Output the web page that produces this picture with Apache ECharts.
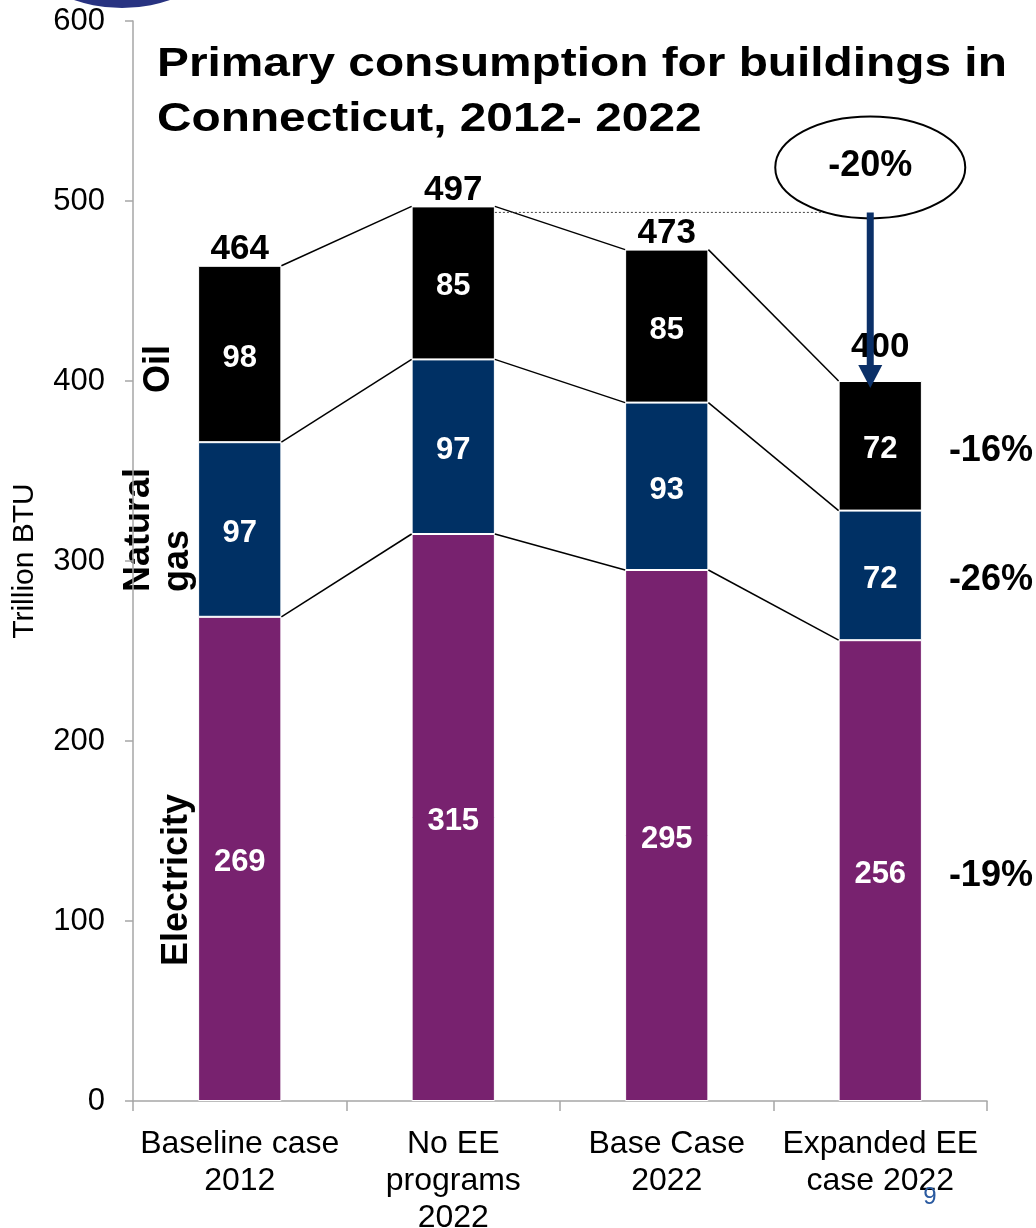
<!DOCTYPE html>
<html>
<head>
<meta charset="utf-8">
<script src="https://cdn.jsdelivr.net/npm/echarts@6/dist/echarts.min.js"></script>
<style>
  html, body { margin: 0; padding: 0; background: #fff; }
  #chart { width: 1036px; height: 1228px; }
</style>
</head>
<body>
<div id="chart"></div>
<script>
// Scenario categories (x axis)
const categories = ['Baseline case\n2012', 'No EE\nprograms\n2022', 'Base Case\n2022', 'Expanded EE\ncase 2022'];

// Primary consumption by fuel, trillion BTU
const electricity = [269, 315, 295, 256];
const naturalGas  = [97, 97, 93, 72];
const oil         = [98, 85, 85, 72];
const totals      = [464, 497, 473, 400];

// Change of the expanded EE case vs. the no-EE case (electricity, gas, oil) and in total
const fuelChange  = ['-19%', '-26%', '-16%'];
const totalChange = '-20%';

// Value axis range
const yMin = 0, yMax = 600, yStep = 100;

const FONT = '"Liberation Sans", Arial, Helvetica, sans-serif';
const BAR_FRAC = 0.39;
const COLORS = { electricity: '#78226F', gas: '#003064', oil: '#000000' };

// cumulative tops of each stacked band
const levels = [
  electricity.map(v => v),
  electricity.map((v, i) => v + naturalGas[i]),
  electricity.map((v, i) => v + naturalGas[i] + oil[i])
];

const chart = echarts.init(document.getElementById('chart'), null, { renderer: 'canvas' });

function barSeries(name, data, color) {
  return {
    name, type: 'bar', stack: 'total', data,
    barWidth: (BAR_FRAC * 100) + '%',
    itemStyle: { color, borderColor: '#ffffff', borderWidth: 1 },
    label: {
      show: true, position: 'inside', color: '#ffffff', offset: [0, 4],
      fontFamily: FONT, fontSize: 31, fontWeight: 'bold'
    },
    emphasis: { disabled: true }
  };
}

// totals above bars, connector lines between bars, change labels beside the last bar
function renderOverlay(params, api) {
  const i = params.dataIndex;
  const n = categories.length;
  const half = api.size([1, 0])[0] * BAR_FRAC / 2;
  const kids = [];
  const top = api.coord([i, totals[i]]);
  // the last total sits higher so the arrow head fits beneath it
  const lift = i === n - 1 ? 16 : -1;
  kids.push({
    type: 'text', silent: true,
    style: {
      text: String(totals[i]), x: top[0], y: top[1] - lift,
      align: 'center', verticalAlign: 'bottom',
      fontFamily: FONT, fontSize: 35, fontWeight: 'bold', fill: '#000'
    }
  });
  if (i < n - 1) {
    levels.forEach(lv => {
      const a = api.coord([i, lv[i]]);
      const b = api.coord([i + 1, lv[i + 1]]);
      kids.push({
        type: 'line', silent: true,
        shape: { x1: a[0] + half, y1: a[1], x2: b[0] - half, y2: b[1] },
        style: { stroke: '#000', lineWidth: 1.5 }
      });
    });
  } else {
    levels.forEach((lv, k) => {
      const lo = k === 0 ? 0 : levels[k - 1][i];
      const p = api.coord([i, (lo + lv[i]) / 2]);
      kids.push({
        type: 'text', silent: true,
        style: {
          text: fuelChange[k], x: p[0] + half + 27, y: p[1] + 5,
          align: 'left', verticalAlign: 'middle',
          fontFamily: FONT, fontSize: 36, fontWeight: 'bold', fill: '#000'
        }
      });
    });
  }
  return { type: 'group', children: kids };
}

chart.setOption({
  animation: false,
  backgroundColor: '#ffffff',
  textStyle: { fontFamily: FONT },
  grid: { left: 133, right: 49, top: 21, bottom: 127, containLabel: false, outerBoundsMode: 'none' },
  xAxis: {
    type: 'category',
    data: categories,
    axisLine: { show: true, lineStyle: { color: '#a6a6a6', width: 1.5 } },
    axisTick: { show: true, length: 10, alignWithLabel: false, lineStyle: { color: '#a6a6a6', width: 1.5 } },
    axisLabel: {
      color: '#000', fontFamily: FONT, fontSize: 32, lineHeight: 37,
      margin: 25, interval: 0
    }
  },
  yAxis: {
    type: 'value',
    min: yMin, max: yMax, interval: yStep,
    name: 'Trillion BTU',
    nameLocation: 'middle',
    nameGap: 93,
    nameRotate: 90,
    nameTextStyle: { color: '#000', fontFamily: FONT, fontSize: 30 },
    axisLine: { show: true, lineStyle: { color: '#a6a6a6', width: 1.5 } },
    axisTick: { show: true, length: 8, lineStyle: { color: '#a6a6a6', width: 1.5 } },
    axisLabel: { color: '#000', fontFamily: FONT, fontSize: 31, margin: 28 },
    splitLine: { show: false }
  },
  series: [
    barSeries('Electricity', electricity, COLORS.electricity),
    barSeries('Natural gas', naturalGas, COLORS.gas),
    barSeries('Oil', oil, COLORS.oil),
    {
      type: 'custom',
      name: 'overlay',
      silent: true,
      clip: false,
      z: 5,
      renderItem: renderOverlay,
      encode: { x: 0, y: 1 },
      data: categories.map((c, i) => [i, totals[i]])
    }
  ]
});

// annotation: dotted reference level, callout ellipse and arrow
const p0 = chart.convertToPixel({ gridIndex: 0 }, [0, 0]);
const p1 = chart.convertToPixel({ gridIndex: 0 }, [1, 0]);
const halfBar = (p1[0] - p0[0]) * BAR_FRAC / 2;
const noEETop = chart.convertToPixel({ gridIndex: 0 }, [1, totals[1]]);
const lastTop = chart.convertToPixel({ gridIndex: 0 }, [categories.length - 1, totals[categories.length - 1]]);
const refY = noEETop[1] + 6;
const arrowX = lastTop[0] - 10;
const headTop = lastTop[1] - 16;
const calloutY = refY - 45;

const graphics = [
  // emblem at the top edge
  { type: 'circle', shape: { cx: 122, cy: -140, r: 148 }, style: { fill: '#283381' }, silent: true },
  // title
  {
    type: 'text', x: 157, y: 65, scaleX: 1.195, silent: true,
    style: { text: 'Primary consumption for buildings in', x: 0, y: 0, align: 'left', verticalAlign: 'middle',
             fontFamily: FONT, fontSize: 40, fontWeight: 'bold', fill: '#000' }
  },
  {
    type: 'text', x: 157, y: 120, scaleX: 1.195, silent: true,
    style: { text: 'Connecticut, 2012- 2022', x: 0, y: 0, align: 'left', verticalAlign: 'middle',
             fontFamily: FONT, fontSize: 40, fontWeight: 'bold', fill: '#000' }
  },
  // fuel names beside the first bar
  {
    type: 'text', x: 159, y: 393, rotation: Math.PI / 2, silent: true,
    style: { text: 'Oil', align: 'left', verticalAlign: 'middle', fontFamily: FONT, fontSize: 36, fontWeight: 'bold', fill: '#000' }
  },
  {
    type: 'text', x: 139, y: 592, rotation: Math.PI / 2, silent: true,
    style: { text: 'Natural', align: 'left', verticalAlign: 'middle', fontFamily: FONT, fontSize: 36, fontWeight: 'bold', fill: '#000' }
  },
  {
    type: 'text', x: 178, y: 592, rotation: Math.PI / 2, silent: true,
    style: { text: 'gas', align: 'left', verticalAlign: 'middle', fontFamily: FONT, fontSize: 36, fontWeight: 'bold', fill: '#000' }
  },
  {
    type: 'text', x: 177, y: 966, rotation: Math.PI / 2, silent: true,
    style: { text: 'Electricity', align: 'left', verticalAlign: 'middle', fontFamily: FONT, fontSize: 36, fontWeight: 'bold', fill: '#000' }
  },
  // dotted reference at the no-EE total
  {
    type: 'line', silent: true, z: 10,
    shape: { x1: noEETop[0] + halfBar, y1: refY, x2: arrowX - 3, y2: refY },
    style: { stroke: '#444', lineWidth: 1, lineDash: [2, 2] }
  },
  // callout ellipse
  {
    type: 'ellipse', silent: true, z: 11,
    shape: { cx: arrowX, cy: calloutY, rx: 95, ry: 51 },
    style: { fill: '#ffffff', stroke: '#000', lineWidth: 2 }
  },
  {
    type: 'text', silent: true, z: 12,
    style: { text: totalChange, x: arrowX, y: calloutY - 1, align: 'center', verticalAlign: 'middle',
             fontFamily: FONT, fontSize: 36, fontWeight: 'bold', fill: '#000' }
  },
  // arrow down to the expanded EE total
  {
    type: 'rect', silent: true, z: 13,
    shape: { x: arrowX - 3.5, y: refY, width: 7, height: headTop - refY },
    style: { fill: '#0b3068' }
  },
  {
    type: 'polygon', silent: true, z: 13,
    shape: { points: [[arrowX - 12, headTop], [arrowX + 12, headTop], [arrowX, lastTop[1] + 7]] },
    style: { fill: '#0b3068' }
  },
  // slide number
  {
    type: 'text', silent: true, z: 14,
    style: { text: '9', x: 930, y: 1197, align: 'center', verticalAlign: 'middle',
             fontFamily: FONT, fontSize: 24, fill: '#2a5aa0' }
  }
];

chart.setOption({ graphic: graphics });
</script>
</body>
</html>
